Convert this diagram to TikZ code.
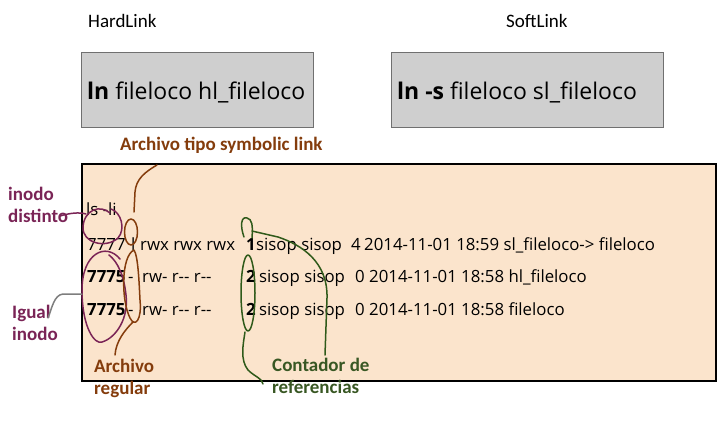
\documentclass[tikz,border=0pt]{standalone}
\usepackage{fontspec}
\setmainfont{Open Sans}
\newfontfamily\labf{Carlito}
\definecolor{peach}{HTML}{FBE4CC}
\definecolor{grayfill}{HTML}{CFCFCF}
\definecolor{grayline}{HTML}{707070}
\definecolor{plum}{HTML}{7A2456}
\definecolor{rust}{HTML}{843C0C}
\definecolor{forest}{HTML}{2F5A1A}
\definecolor{lblgreen}{HTML}{385723}
\newcommand\dd{-\kern0pt-}
\tikzset{
  graybox/.style={draw=grayline, line width=1.2pt, fill=grayfill, anchor=north west, inner sep=0pt},
  termbox/.style={draw=black, line width=2pt, fill=peach, anchor=north west, inner sep=0pt},
  head/.style={font=\labf\fontsize{19}{22}\selectfont, anchor=base west, inner sep=0pt},
  cmd/.style={font=\fontsize{23}{26}\selectfont, anchor=base west, inner sep=0pt},
  row/.style={font=\fontsize{16.8}{20}\selectfont, anchor=base west, inner sep=0pt},
  lbl/.style={font=\labf\bfseries\fontsize{19}{22}\selectfont, anchor=base west, inner sep=0pt, align=left},
  ink/.style={line width=1.5pt, line cap=round, line join=round},
}
\begin{document}
\begin{tikzpicture}[x=1pt,y=-1pt]
\useasboundingbox (0,0) rectangle (718,426);

% headings
\node[head] (hlh) at (88,27) {HardLink};
\node[head] (slh) at (506,27) {SoftLink};

% command boxes
\node[graybox, minimum width=232pt, minimum height=75pt] (hlbox) at (81,52) {};
\node[graybox, minimum width=272pt, minimum height=75pt] (slbox) at (391,52) {};
\node[cmd] (hlcmd) at (87,99) {\textbf{ln} fileloco hl\_fileloco};
\node[cmd] (slcmd) at (397,99) {\textbf{ln -s} fileloco sl\_fileloco};

% terminal box
\node[termbox, minimum width=634pt, minimum height=217pt] (term) at (81,163) {};

\node[row] (cmdls) at (86,215) {ls -li};

\node[row] (i1) at (87,250) {7777};
\node[row] (t1) at (131,250) {l};
\node[row] (p1) at (140,250) {rwx rwx rwx};
\node[row] (n1) at (246,250) {\textbf{1}};
\node[row] (u1) at (256,250) {sisop sisop};
\node[row] (s1) at (351,250) {4};
\node[row] (d1) at (364,250) {2014-11-01 18:59 sl\_fileloco-> fileloco};

\node[row] (i2) at (87,282) {\textbf{7775}};
\node[row] (t2) at (128,282) {-};
\node[row] (p2) at (142,282) {rw- r\dd{} r\dd};
\node[row] (n2) at (246,282) {\textbf{2}};
\node[row] (u2) at (259,282) {sisop sisop};
\node[row] (s2) at (355,282) {0};
\node[row] (d2) at (369,282) {2014-11-01 18:58 hl\_fileloco};

\node[row] (i3) at (87,315) {\textbf{7775}};
\node[row] (t3) at (128,315) {-};
\node[row] (p3) at (142,315) {rw- r\dd{} r\dd};
\node[row] (n3) at (246,315) {\textbf{2}};
\node[row] (u3) at (259,315) {sisop sisop};
\node[row] (s3) at (355,315) {0};
\node[row] (d3) at (369,315) {2014-11-01 18:58 fileloco};

% labels (base = last line)
\node[lbl, text=rust] (symlbl) at (120,150) {Archivo tipo symbolic link};
\node[lbl, text=plum] (dist) at (8,222) {inodo\\distinto};
\node[lbl, text=plum] (igual) at (12,340) {Igual\\inodo};
\node[lbl, text=rust] (reg) at (94,394) {Archivo\\regular};
\node[lbl, text=lblgreen] (cont) at (272,393) {Contador de\\referencias};

% purple marks
\draw[ink, plum] (60,216) .. controls (70,213) and (79,212) .. (86,214);
\draw[ink, plum] (110,213) .. controls (100,204) and (84,210) .. (83,227)
  .. controls (82,243) and (106,249) .. (118,238)
  .. controls (126,229) and (121,212) .. (111,209);
\draw[ink, plum] (120,259) .. controls (106,242) and (82,253) .. (82,290)
  .. controls (82,328) and (95,345) .. (102,342)
  .. controls (116,338) and (129,318) .. (126,295)
  .. controls (124,276) and (118,262) .. (109,255);
\draw[ink, grayline!90] (48,318) .. controls (52,308) and (54,295) .. (63,294) -- (82,294);

% brown marks
\draw[ink, rust] (157,165) .. controls (145,172) and (136,179) .. (135,192) -- (134,212);
\draw[ink, rust] (131,232) ellipse [x radius=6.5, y radius=13];
\draw[ink, rust] (134,250) .. controls (121,256) and (121,300) .. (130,318)
  .. controls (135,328) and (142,320) .. (140,300)
  .. controls (139,280) and (138,256) .. (134,250);
\draw[ink, rust] (133,322) .. controls (125,330) and (116,341) .. (115,355);

% green marks
\draw[ink, forest] (244,237) .. controls (240,226) and (241,216) .. (247,218)
  .. controls (252,219) and (253,225) .. (252,238);
\draw[ink, forest] (252,231) -- (278,237) .. controls (302,245) and (328,262) .. (327,298) -- (325,355);
\draw[ink, forest] (248,293) ellipse [x radius=7, y radius=38];
\draw[ink, forest] (245,332) .. controls (243,345) and (240,360) .. (248,370)
  .. controls (255,377) and (262,378) .. (263,384);
\end{tikzpicture}
\end{document}
